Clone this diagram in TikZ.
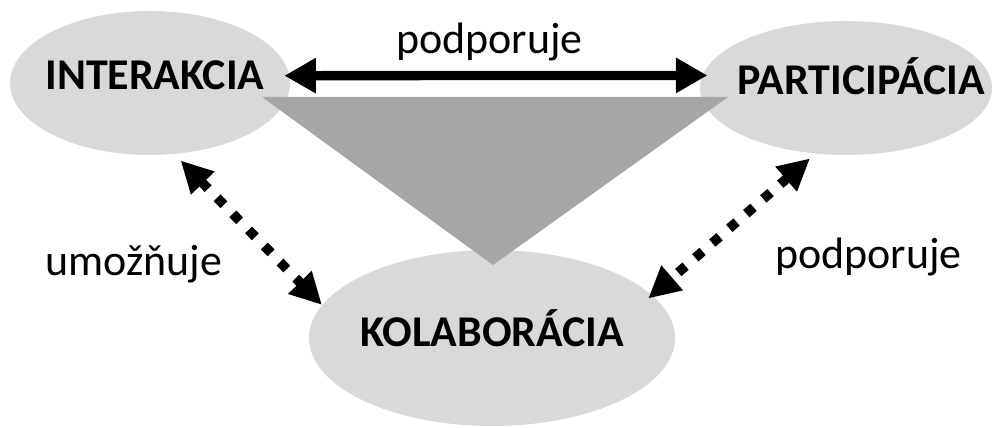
\documentclass[tikz,border=0pt]{standalone}
\usepackage{fontspec}
\setmainfont{Carlito}
\usetikzlibrary{shapes.geometric,arrows.meta}
\definecolor{bubble}{HTML}{D9D9D9}
\definecolor{wedge}{HTML}{A6A6A6}
\begin{document}
\begin{tikzpicture}[x=0.02cm,y=-0.02cm,
  bubble/.style={ellipse,fill=bubble,draw=none,inner sep=0pt},
  title/.style={font=\fontsize{25}{30}\selectfont\bfseries,inner sep=0pt,anchor=base west},
  relation/.style={font=\fontsize{25}{30}\selectfont,inner sep=0pt,anchor=base west},
  solidlink/.style={line width=5.3pt,{Triangle[length=18pt,width=19pt]}-{Triangle[length=18pt,width=19pt]}},
  dottedlink/.style={line width=5.5pt,dash pattern=on 5.5pt off 7.3pt,{Triangle[length=18pt,width=17.5pt]}-{Triangle[length=18pt,width=17.5pt]}}]
\useasboundingbox (0,0) rectangle (994,428);
% the three bubbles
\node[bubble,minimum width=280*0.02cm,minimum height=144*0.02cm] (ia) at (150,83) {};
\node[bubble,minimum width=292*0.02cm,minimum height=134*0.02cm] (pa) at (846,88) {};
\node[bubble,minimum width=366*0.02cm,minimum height=176*0.02cm] (ko) at (492,338) {};
% the grey wedge between them
\fill[wedge] (262,97) -- (728,97) -- (493,265) -- cycle;
% names in the bubbles
\node[title] (tia) at (45,90) {INTERAKCIA};
\node[title] (tpa) at (737,95) {PARTICIPÁCIA};
\node[title] (tko) at (360,347) {KOLABORÁCIA};
% relations
\draw[solidlink,shorten <=-3pt,shorten >=-3pt] (ia.3) -- (pa.175);
\draw[dottedlink,shorten <=5pt] (ia.289) -- (ko.169);
\draw[dottedlink,shorten <=4pt,shorten >=-3pt] (pa.245) -- (ko.15);
\node[relation] (l1) at (396,54) {podporuje};
\node[relation] (l2) at (45,276) {umožňuje};
\node[relation] (l3) at (775,269) {podporuje};
\end{tikzpicture}
\end{document}
